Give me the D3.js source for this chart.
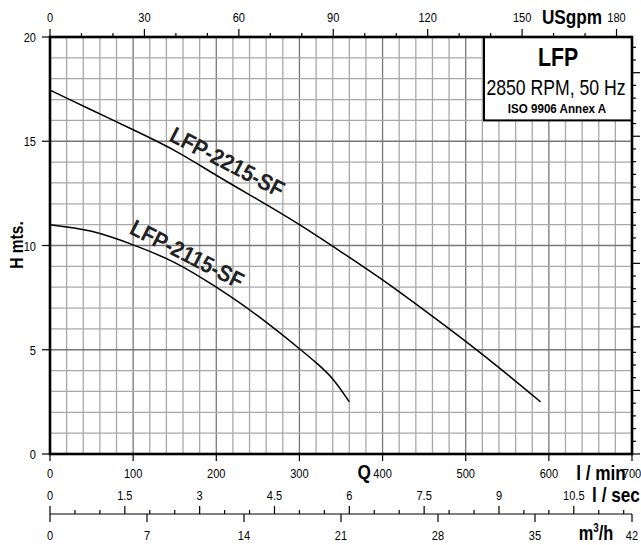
<!DOCTYPE html>
<html>
<head>
<meta charset="utf-8">
<script src="https://cdn.jsdelivr.net/npm/d3@7"></script>
<style>
  body { margin: 0; background: #fff; }
  text { font-family: "Liberation Sans", Arial, sans-serif; }
</style>
</head>
<body>
<svg id="chart" width="641" height="545"></svg>
<script>
// pump curves, Q in l/min, H in m
const qUpper = [0, 50, 100, 150, 200, 250, 300, 350, 400, 450, 500, 550, 590]
const hUpper = [17.45, 16.5, 15.55, 14.55, 13.37, 12.2, 11.0, 9.7, 8.35, 6.9, 5.4, 3.82, 2.5]
const qLower = [0, 50, 100, 150, 200, 250, 300, 320, 340, 360]
const hLower = [11.0, 10.68, 10.03, 9.18, 8.0, 6.62, 5.05, 4.38, 3.6, 2.5]

const curveNames = ["LFP-2215-SF", "LFP-2115-SF"]
const labelQ = [142, 94]
const labelH = [15.05, 10.6]
const labelAngle = [27.5, 27]

const hTicks = [0, 5, 10, 15, 20]
const lminTicks = [0, 100, 200, 300, 400, 500, 600, 700]
const usTicks = [0, 30, 60, 90, 120, 150, 180]
const lsTicks = [0, 1.5, 3, 4.5, 6, 7.5, 9, 10.5]
const m3Ticks = [0, 7, 14, 21, 28, 35, 42]

const legendLines = ["LFP", "2850 RPM, 50 Hz", "ISO 9906 Annex A"]

const svg = d3.select("#chart")

const x = d3.scaleLinear().domain([0, 700]).range([50, 632])
const y = d3.scaleLinear().domain([0, 20]).range([454, 37])
const xUS = d3.scaleLinear().domain([0, 700 / 3.78541]).range([50, 632])
const yFt = d3.scaleLinear().domain([0, 20 / 0.3048]).range([454, 37])
const xLs = d3.scaleLinear().domain([0, 700 / 60]).range([50, 632])
const xM3 = d3.scaleLinear().domain([0, 42]).range([50, 632])

// narrow text: regular face squeezed horizontally
const label = (g, px, py, str, o = {}) =>
  g.append("text")
    .attr("transform", `translate(${px},${py}) rotate(${o.rot || 0}) scale(${o.sx || 0.82},1)`)
    .attr("text-anchor", o.anchor || "middle")
    .attr("font-size", o.size || 13.5)
    .attr("font-weight", o.bold ? "bold" : "normal")
    .attr("fill", o.fill || "#000")
    .text(str)

// GRID
const grid = svg.append("g")
grid.selectAll(".gv").data(d3.range(20, 700, 20)).join("line")
  .attr("x1", d => x(d)).attr("x2", d => x(d))
  .attr("y1", y(0)).attr("y2", y(20))
  .attr("stroke", d => d % 100 === 0 ? "#777" : "#a8a8a8")
  .attr("stroke-width", 1.3)
grid.selectAll(".gh").data(d3.range(1, 20, 1)).join("line")
  .attr("x1", x(0)).attr("x2", x(700))
  .attr("y1", d => y(d)).attr("y2", d => y(d))
  .attr("stroke", d => d % 5 === 0 ? "#777" : "#a8a8a8")
  .attr("stroke-width", 1.3)

// CURVES
const line = d3.line().x(d => x(d[0])).y(d => y(d[1])).curve(d3.curveNatural)
const curves = [d3.zip(qUpper, hUpper), d3.zip(qLower, hLower)]
svg.selectAll(".curve").data(curves).join("path")
  .attr("d", line)
  .attr("fill", "none")
  .attr("stroke", "#000")
  .attr("stroke-width", 1.5)

curveNames.forEach((name, i) => {
  label(svg, x(labelQ[i]), y(labelH[i]), name,
    { rot: labelAngle[i], anchor: "start", size: 23, bold: true, sx: 0.9, fill: "#222" })
})

// LEGEND BOX
svg.append("rect")
  .attr("x", 484).attr("y", y(20)).attr("width", x(700) - 484).attr("height", y(16) - y(20))
  .attr("fill", "#fff").attr("stroke", "#000").attr("stroke-width", 2)
label(svg, 558, 66, legendLines[0], { size: 26, bold: true })
label(svg, 556, 95, legendLines[1], { size: 21.5 })
label(svg, 557, 113, legendLines[2], { size: 13.5, bold: true, sx: 0.86 })

// FRAME
svg.append("rect")
  .attr("x", x(0)).attr("y", y(20)).attr("width", x(700) - x(0)).attr("height", y(0) - y(20))
  .attr("fill", "none").attr("stroke", "#000").attr("stroke-width", 2.6)

const axes = svg.append("g").attr("stroke", "#000").attr("stroke-width", 1.2)

// left H axis
axes.selectAll(".th").data(hTicks).join("line")
  .attr("x1", x(0) - 8).attr("x2", x(0)).attr("y1", d => y(d)).attr("y2", d => y(d))
hTicks.forEach(d => label(svg, 36, y(d) + 5, d, { anchor: "end" }))
label(svg, 23, 245, "H mts.", { rot: -90, size: 19, bold: true })

// right ft axis (labels fall outside the picture)
axes.selectAll(".tf").data(d3.range(0, 66, 2)).join("line")
  .attr("x1", x(700)).attr("x2", d => x(700) + (d % 10 === 0 ? 8 : 4))
  .attr("y1", d => yFt(d)).attr("y2", d => yFt(d))

// top USgpm axis
axes.selectAll(".tu").data(d3.range(0, 190, 10)).join("line")
  .attr("x1", d => xUS(d)).attr("x2", d => xUS(d))
  .attr("y1", y(20)).attr("y2", d => y(20) - (d % 30 === 0 ? 8 : 4))
usTicks.forEach(d => label(svg, xUS(d), 22, d))
label(svg, 572, 24, "USgpm", { size: 21, bold: true })

// bottom l/min axis
axes.selectAll(".tl").data(lminTicks).join("line")
  .attr("x1", d => x(d)).attr("x2", d => x(d)).attr("y1", y(0)).attr("y2", y(0) + 7)
lminTicks.forEach(d => label(svg, x(d), 478, d))
label(svg, 371, 479, "Q", { anchor: "end", size: 21, bold: true })
label(svg, 601, 480, "l / min", { size: 21, bold: true })

// l/sec and m3/h scale
const yBase = 514
axes.append("line").attr("x1", x(0)).attr("x2", x(700)).attr("y1", yBase).attr("y2", yBase)
axes.selectAll(".ts").data(d3.range(0, 11.6, 0.5)).join("line")
  .attr("x1", d => xLs(d)).attr("x2", d => xLs(d))
  .attr("y1", yBase).attr("y2", (d, i) => yBase - (i % 3 === 0 ? 8 : 4))
lsTicks.forEach(d => label(svg, xLs(d), 500, d))
label(svg, 616, 502, "l / sec", { size: 21, bold: true })

axes.selectAll(".tm").data(m3Ticks).join("line")
  .attr("x1", d => xM3(d)).attr("x2", d => xM3(d)).attr("y1", yBase).attr("y2", yBase + 8)
m3Ticks.forEach(d => label(svg, xM3(d), 540, d))
const m3 = label(svg, 596, 540, "m", { size: 20, bold: true })
m3.append("tspan").attr("dy", -8).attr("font-size", 12).text("3")
m3.append("tspan").attr("dy", 8).text("/h")
</script>
</body>
</html>
